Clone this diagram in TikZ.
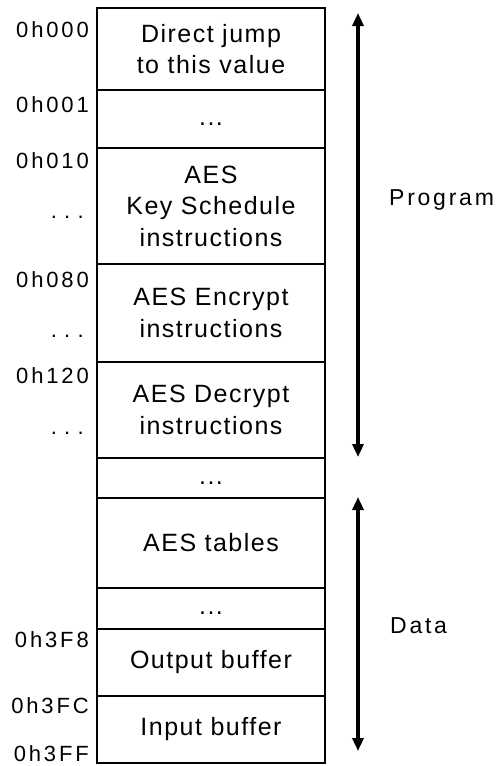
\documentclass[tikz,border=0pt]{standalone}
\usepackage{fontspec}
\setmainfont{Liberation Sans}[LetterSpace=6]
\newfontfamily\lblfont{Liberation Sans}[LetterSpace=13]
\newfontfamily\sidefont{Liberation Sans}[LetterSpace=12]
\usetikzlibrary{arrows.meta}
\begin{document}
\begin{tikzpicture}[x=1pt,y=-1pt,
  cell/.style={draw=black,line width=2.2pt,minimum width=228pt,inner sep=0pt,
    align=center,font=\fontsize{25}{31.5}\selectfont},
  addr/.style={anchor=base east,inner sep=0pt,font=\lblfont\fontsize{22}{25}\selectfont},
  side/.style={anchor=base west,inner sep=0pt,font=\sidefont\fontsize{23}{26}\selectfont},
  span/.style={line width=3.5pt,{Triangle[width=11pt,length=13pt]}-{Triangle[width=11pt,length=13pt]}}]
\useasboundingbox (0,0) rectangle (501,766);
% memory cells
\node[cell,minimum height=82pt] (c1) at (211,49) {Direct jump\\to this value};
\node[cell,minimum height=58pt] (c2) at (211,119) {\strut...};
\node[cell,minimum height=116pt] (c3) at (211,206) {AES\\Key Schedule\\instructions};
\node[cell,minimum height=98pt] (c4) at (211,313) {AES Encrypt\\instructions};
\node[cell,minimum height=96pt] (c5) at (211,410) {AES Decrypt\\instructions};
\node[cell,minimum height=40pt] (c6) at (211,478) {\strut...};
\node[cell,minimum height=90pt] (c7) at (211,543) {AES tables};
\node[cell,minimum height=41pt] (c8) at (211,608.5) {\strut...};
\node[cell,minimum height=67pt] (c9) at (211,662.5) {Output buffer};
\node[cell,minimum height=67pt] (c10) at (211,729.5) {Input buffer};
% addresses
\node[addr] (a1) at (89,37) {0h000};
\node[addr] (a2) at (89,112) {0h001};
\node[addr] (a3) at (89,168) {0h010};
\node[addr] (d3) at (84,218) {.\,\,.\,\,.};
\node[addr] (a4) at (89,287) {0h080};
\node[addr] (d4) at (84,337) {.\,\,.\,\,.};
\node[addr] (a5) at (89,383) {0h120};
\node[addr] (d5) at (84,434) {.\,\,.\,\,.};
\node[addr] (a9) at (89,647) {0h3F8};
\node[addr] (a10) at (89,713) {0h3FC};
\node[addr] (a11) at (89,761) {0h3FF};
% spans
\coordinate (pt) at (358,13);
\coordinate (pb) at (358,457);
\coordinate (dt) at (358,497);
\coordinate (db) at (358,751);
\draw[span] (pt) -- (pb);
\draw[span] (dt) -- (db);
\node[side] (prog) at (389,205) {Program};
\node[side] (data) at (390,633) {Data};
\end{tikzpicture}
\end{document}
